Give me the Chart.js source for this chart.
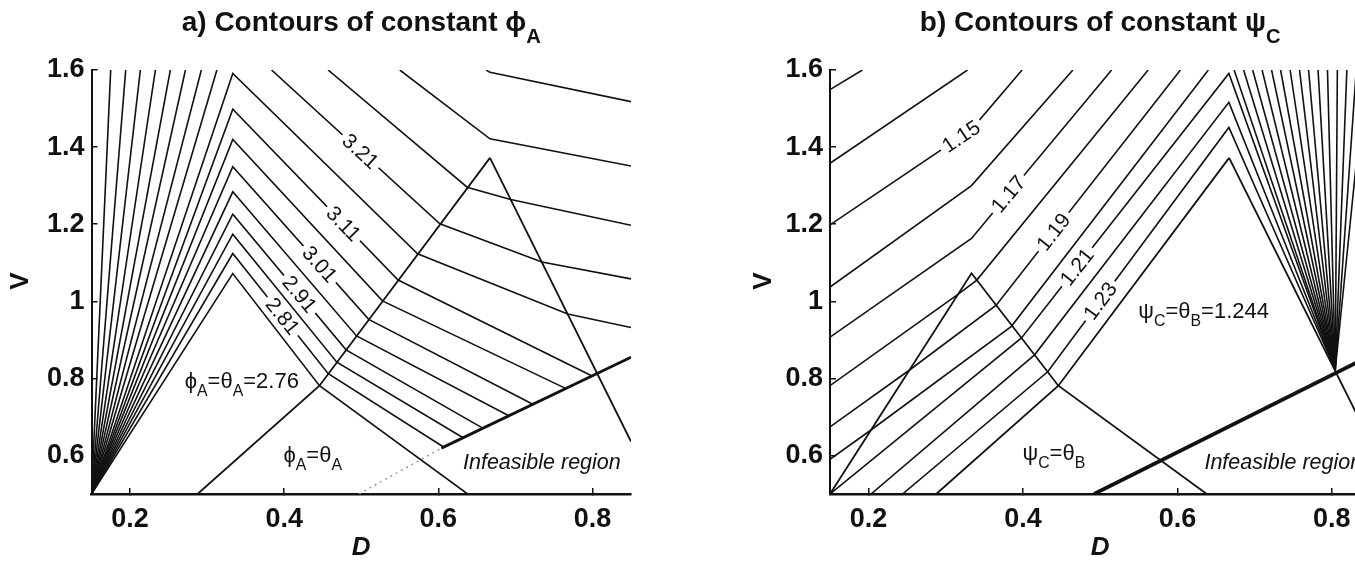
<!DOCTYPE html>
<html>
<head>
<meta charset="utf-8">
<style>
  html, body { margin: 0; padding: 0; background: #fff; overflow: hidden; }
  body { width: 1355px; height: 564px; position: relative; }
  .panel { position: absolute; top: 0; }
</style>
<script src="https://cdn.jsdelivr.net/npm/chart.js"></script>
</head>
<body>
<div class="panel" style="left:0px"><canvas id="phiChart" width="680" height="564"></canvas></div>
<div class="panel" style="left:700px"><canvas id="psiChart" width="700" height="564"></canvas></div>
<script>
// axes (both panels)
var dTicks = [0.2, 0.4, 0.6, 0.8];
var vTicks = [0.6, 0.8, 1.0, 1.2, 1.4, 1.6];

// ---- panel a) contours of constant phi_A, vertices [D, V]
// levels 2.76 .. 3.16: from the lower-left corner up to the peak at D=1/3, then down-right
var phiPeaked = [
  [[0.15, 0.5], [0.3333, 1.072], [0.4458, 0.781], [0.638, 0.5]],
  [[0.15, 0.5], [0.3333, 1.124], [0.4572, 0.812], [0.6068, 0.622]],
  [[0.15, 0.5], [0.3333, 1.174], [0.4683, 0.842], [0.6322, 0.646]],
  [[0.15, 0.5], [0.3333, 1.226], [0.4803, 0.874], [0.6576, 0.671]],
  [[0.15, 0.5], [0.3333, 1.284], [0.4939, 0.910], [0.6915, 0.703]],
  [[0.15, 0.5], [0.3333, 1.349], [0.5097, 0.953], [0.7226, 0.733]],
  [[0.15, 0.5], [0.3333, 1.420], [0.5275, 1.001], [0.7650, 0.774]],
  [[0.15, 0.5], [0.3333, 1.498], [0.5478, 1.055], [0.7989, 0.807]],
  [[0.15, 0.5], [0.3333, 1.591], [0.5731, 1.123], [0.7679, 0.967], [0.85, 0.932]]
];
// left fan: D where each line from the corner meets the top
var phiFanTops = [0.3127, 0.2925, 0.2719, 0.2523, 0.2329, 0.2134, 0.1944, 0.1749];
// levels 3.21 .. 3.36 coming in from the top
var phiUpper = [
  [[0.3836, 1.6], [0.602, 1.201], [0.7344, 1.102], [0.85, 1.058]],
  [[0.457, 1.6], [0.6374, 1.296], [0.6939, 1.264], [0.85, 1.197]],
  [[0.550, 1.6], [0.667, 1.4215], [0.85, 1.351]],
  [[0.662, 1.6], [0.667, 1.594], [0.85, 1.518]]
];
var phiBounds = [
  [[0.2876, 0.5], [0.4458, 0.781], [0.667, 1.372]],
  [[0.667, 1.372], [0.85, 0.636]]
];
var phiInfeasible = [[0.604, 0.619], [0.85, 0.855]];
var phiInfeasibleDotted = [[0.497, 0.5], [0.604, 0.619]];
var phiLabelText = ['2.81', '2.91', '3.01', '3.11', '3.21'];
var phiLabelD = [0.398, 0.420, 0.446, 0.477, 0.499];

// ---- panel b) contours of constant psi_C, levels 1.13 .. 1.23
var psiLines = [
  [[0.15, 1.549], [0.192, 1.6]],
  [[0.15, 1.358], [0.3281, 1.6]],
  [[0.15, 1.198], [0.3333, 1.446], [0.3988, 1.6]],
  [[0.15, 1.037], [0.3333, 1.30], [0.4646, 1.6]],
  [[0.15, 0.907], [0.3333, 1.163], [0.5148, 1.6]],
  [[0.15, 0.781], [0.3157, 1.018], [0.3402, 1.055], [0.5621, 1.6]],
  [[0.15, 0.674], [0.2526, 0.821], [0.3653, 0.990], [0.6039, 1.6]],
  [[0.15, 0.59], [0.2031, 0.666], [0.385, 0.935], [0.6401, 1.6]],
  [[0.15, 0.5], [0.398, 0.905], [0.6667, 1.591], [0.8045, 0.823]],
  [[0.2031, 0.5], [0.415, 0.861], [0.6667, 1.516], [0.8045, 0.823]],
  [[0.244, 0.5], [0.432, 0.817], [0.6667, 1.451], [0.8045, 0.823]]
];
// right fan: lines from the top down to the corner of the infeasible line
var psiFanTops = [0.6735, 0.6858, 0.6975, 0.7097, 0.722, 0.7337, 0.746, 0.7582,
                  0.7699, 0.7822, 0.7944, 0.8072, 0.8195, 0.8317, 0.844];
var psiFocus = [0.8045, 0.823];
var psiBounds = [
  [[0.15, 0.5], [0.3333, 1.0726], [0.4458, 0.781], [0.638, 0.5]],
  [[0.2876, 0.5], [0.4458, 0.781], [0.667, 1.372]],
  [[0.667, 1.372], [0.85, 0.636]]
];
var psiInfeasible = [[0.492, 0.5], [0.85, 0.859]];
var psiLabelText = ['1.15', '1.17', '1.19', '1.21', '1.23'];
var psiLabelD = [0.3198, 0.381, 0.4396, 0.470, 0.500];

var FONT = '"Liberation Sans", Arial, sans-serif';
function font(size, bold, italic) {
  return (italic ? 'italic ' : '') + (bold ? 'bold ' : '') + size + 'px ' + FONT;
}

function lineSet(list, width, dash, color) {
  return {
    data: list.map(function (p) { return { x: p[0], y: p[1] }; }),
    borderColor: color || '#111', borderWidth: width || 1.6, borderDash: dash || [],
    pointRadius: 0, fill: false, tension: 0
  };
}

// text with subscripts: parts = [[text, isSub], ...]
function drawRich(ctx, parts, x, y, size, bold, italic, align, drop) {
  var widths = parts.map(function (p) {
    ctx.font = font(p[1] ? size * 0.72 : size, bold, italic);
    return ctx.measureText(p[0]).width;
  });
  var total = widths.reduce(function (a, b) { return a + b; }, 0);
  var cx = align === 'center' ? x - total / 2 : x;
  ctx.textAlign = 'left';
  ctx.textBaseline = 'middle';
  parts.forEach(function (p, i) {
    ctx.font = font(p[1] ? size * 0.72 : size, bold, italic);
    ctx.fillText(p[0], cx, y + (p[1] ? size * drop : 0));
    cx += widths[i];
  });
}

function findSeg(line, d) {
  for (var i = 0; i < line.length - 1; i++) {
    if (d >= line[i][0] && d <= line[i + 1][0]) return [line[i], line[i + 1]];
  }
  return [line[0], line[1]];
}

function panelText(cfg) {
  return {
    id: 'panelText',
    afterDatasetsDraw: function (chart) {
      var ctx = chart.ctx, xs = chart.scales.x, ys = chart.scales.y;
      cfg.labels.forEach(function (lab) {
        var seg = findSeg(lab.line, lab.d);
        var x0 = xs.getPixelForValue(seg[0][0]), y0 = ys.getPixelForValue(seg[0][1]);
        var x1 = xs.getPixelForValue(seg[1][0]), y1 = ys.getPixelForValue(seg[1][1]);
        var t = (lab.d - seg[0][0]) / (seg[1][0] - seg[0][0]);
        var ang = Math.atan2(y1 - y0, x1 - x0);
        ctx.save();
        ctx.translate(x0 + t * (x1 - x0), y0 + t * (y1 - y0));
        ctx.rotate(ang);
        ctx.font = font(21);
        var w = ctx.measureText(lab.text).width;
        ctx.fillStyle = '#fff';
        ctx.fillRect(-w / 2 - 4, -9, w + 8, 18);
        ctx.fillStyle = '#111';
        ctx.textAlign = 'center';
        ctx.textBaseline = 'middle';
        ctx.fillText(lab.text, 0, 1);
        ctx.restore();
      });
    },
    afterDraw: function (chart) {
      var ctx = chart.ctx, xs = chart.scales.x, ys = chart.scales.y, area = chart.chartArea;
      ctx.save();
      ctx.fillStyle = '#111';
      drawRich(ctx, cfg.title, (area.left + area.right) / 2, 23, 28, true, false, 'center', 0.52);
      ctx.font = font(26, true, true);
      ctx.textAlign = 'center';
      ctx.textBaseline = 'middle';
      ctx.fillText('D', (area.left + area.right) / 2, 548);
      ctx.save();
      ctx.translate(cfg.vTitleX, 281);
      ctx.rotate(-Math.PI / 2);
      ctx.font = font(26, true);
      ctx.fillText('V', 0, 0);
      ctx.restore();
      cfg.notes.forEach(function (n) {
        drawRich(ctx, n.parts, xs.getPixelForValue(n.d), ys.getPixelForValue(n.v),
                 n.size, false, n.italic, n.align, 0.45);
      });
      ctx.restore();
    }
  };
}

function panelOptions(yWidth, padRight) {
  var tickFont = { size: 27, weight: 'bold', family: FONT };
  return {
    responsive: false,
    animation: false,
    events: [],
    layout: { padding: { left: 0, right: padRight, top: 70, bottom: 0 } },
    plugins: { legend: { display: false }, tooltip: { enabled: false } },
    scales: {
      x: {
        type: 'linear', min: 0.15, max: 0.85,
        afterBuildTicks: function (s) { s.ticks = dTicks.map(function (v) { return { value: v }; }); },
        afterFit: function (s) { s.height = 70; },
        grid: { drawOnChartArea: false, tickLength: -6, color: '#111', lineWidth: 1.5 },
        border: { color: '#111', width: 2.5 },
        ticks: { padding: 15, color: '#111', font: tickFont, maxRotation: 0, autoSkip: false,
                 callback: function (v) { return String(v); } }
      },
      y: {
        type: 'linear', min: 0.5, max: 1.6,
        afterBuildTicks: function (s) { s.ticks = vTicks.map(function (v) { return { value: v }; }); },
        afterFit: function (s) { s.width = yWidth; },
        grid: { drawOnChartArea: false, tickLength: -6, color: '#111', lineWidth: 1.5 },
        border: { color: '#111', width: 2 },
        ticks: { padding: 13, color: '#111', font: tickFont, autoSkip: false,
                 callback: function (v) { return String(v); } }
      }
    }
  };
}

// ---- panel a
var phiSets = [];
phiPeaked.forEach(function (l) { phiSets.push(lineSet(l)); });
phiFanTops.forEach(function (d) { phiSets.push(lineSet([[0.15, 0.5], [d, 1.6]])); });
phiUpper.forEach(function (l) { phiSets.push(lineSet(l)); });
phiBounds.forEach(function (l) { phiSets.push(lineSet(l, 1.8)); });
phiSets.push(lineSet(phiInfeasible, 2.8));
phiSets.push(lineSet(phiInfeasibleDotted, 1.5, [2, 4], '#999'));

var phiLabelLines = [phiPeaked[1], phiPeaked[3], phiPeaked[5], phiPeaked[7], phiUpper[0]];

new Chart(document.getElementById('phiChart'), {
  type: 'line',
  data: { datasets: phiSets },
  options: panelOptions(91.5, 49),
  plugins: [panelText({
    title: [['a) Contours of constant ', 0], ['\u03D5', 0], ['A', 1]],
    vTitleX: 21,
    labels: phiLabelText.map(function (t, i) { return { text: t, line: phiLabelLines[i], d: phiLabelD[i] }; }),
    notes: [
      { parts: [['\u03D5', 0], ['A', 1], ['=\u03B8', 0], ['A', 1], ['=2.76', 0]], d: 0.345, v: 0.79, size: 22, align: 'center' },
      { parts: [['\u03D5', 0], ['A', 1], ['=\u03B8', 0], ['A', 1]], d: 0.437, v: 0.60, size: 22, align: 'center' },
      { parts: [['Infeasible region', 0]], d: 0.632, v: 0.58, size: 21.5, italic: true, align: 'left' }
    ]
  })]
});

// ---- panel b
var psiSets = [];
psiLines.forEach(function (l) { psiSets.push(lineSet(l)); });
psiFanTops.forEach(function (d) { psiSets.push(lineSet([[d, 1.6], psiFocus])); });
psiBounds.forEach(function (l) { psiSets.push(lineSet(l, 1.8)); });
psiSets.push(lineSet(psiInfeasible, 3.8));

var psiLabelLines = [psiLines[2], psiLines[4], psiLines[6], psiLines[8], psiLines[10]];

new Chart(document.getElementById('psiChart'), {
  type: 'line',
  data: { datasets: psiSets },
  options: panelOptions(130, 29.6),
  plugins: [panelText({
    title: [['b) Contours of constant ', 0], ['\u03C8', 0], ['C', 1]],
    vTitleX: 64,
    labels: psiLabelText.map(function (t, i) { return { text: t, line: psiLabelLines[i], d: psiLabelD[i] }; }),
    notes: [
      { parts: [['\u03C8', 0], ['C', 1], ['=\u03B8', 0], ['B', 1], ['=1.244', 0]], d: 0.634, v: 0.972, size: 22, align: 'center' },
      { parts: [['\u03C8', 0], ['C', 1], ['=\u03B8', 0], ['B', 1]], d: 0.44, v: 0.605, size: 22, align: 'center' },
      { parts: [['Infeasible region', 0]], d: 0.635, v: 0.58, size: 21.5, italic: true, align: 'left' }
    ]
  })]
});
</script>
</body>
</html>
